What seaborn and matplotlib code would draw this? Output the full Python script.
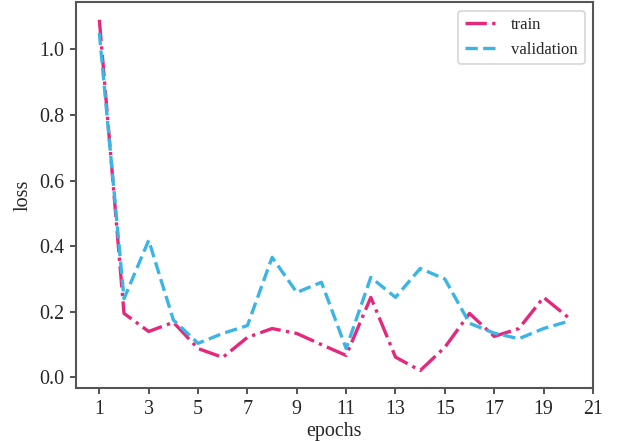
import matplotlib
matplotlib.use("Agg")
import matplotlib.pyplot as plt
import seaborn as sns

epochs = list(range(1, 21))
train_loss = [1.09, 0.195, 0.14, 0.168, 0.088, 0.061, 0.122, 0.149, 0.134, 0.10,
              0.067, 0.244, 0.062, 0.021, 0.092, 0.195, 0.125, 0.149, 0.244, 0.183]
val_loss = [1.05, 0.24, 0.418, 0.175, 0.104, 0.134, 0.158, 0.366, 0.259, 0.29,
            0.088, 0.305, 0.244, 0.332, 0.30, 0.165, 0.135, 0.118, 0.149, 0.171]
xticks = list(range(1, 22, 2))

sns.set_style("ticks")
plt.rcParams["font.family"] = ["Liberation Serif", "DejaVu Serif"]

DPI = 120
fig, ax = plt.subplots(figsize=(617 / DPI, 441 / DPI), dpi=DPI)
fig.subplots_adjust(left=0.123, right=0.961, bottom=0.12, top=0.995)

sns.lineplot(x=epochs, y=train_loss, ax=ax, color="#e5287c", linestyle="-.",
             linewidth=2, label="train")
sns.lineplot(x=epochs, y=val_loss, ax=ax, color="#3bb5e6", linestyle="--",
             linewidth=2, label="validation")

ax.set_xticks(xticks)
ax.set_xlabel("epochs", fontsize=12, labelpad=2)
ax.set_ylabel("loss", fontsize=12)
ax.tick_params(labelsize=12, length=3.5, width=1, color="#333333")
for sp in ax.spines.values():
    sp.set_color("#555555")
    sp.set_linewidth(1.25)
    sp.set_visible(True)

leg = ax.legend(loc="upper right", fontsize=10, frameon=True, fancybox=True)
leg.get_frame().set_edgecolor("#cccccc")

fig.savefig("out.png", dpi=DPI)
